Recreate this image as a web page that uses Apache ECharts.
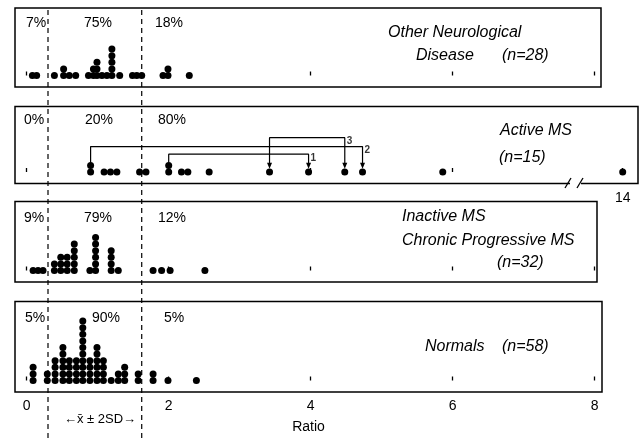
<!DOCTYPE html>
<html><head><meta charset="utf-8">
<script src="https://cdn.jsdelivr.net/npm/echarts@6/dist/echarts.min.js"></script>
<style>html,body{margin:0;padding:0;background:#fff}#c{width:642px;height:438px}</style>
</head><body><div id="c"></div>
<script>
// ---------------- DATA ----------------
const tickValues = [0, 2, 4, 6, 8];
const activeTickValues = [0, 2, 4, 6];
const breakTickValues = [14];
const sdLimits = [0.30, 1.62];          // mean - 2SD, mean + 2SD

const otherNeuro = [0.08, 0.14,
  0.39, 0.52, 0.52, 0.60, 0.69,
  0.87, 0.94, 0.94, 0.99, 0.99, 0.99, 1.06, 1.13, 1.20, 1.20, 1.20, 1.20, 1.20, 1.31, 1.49, 1.55,
  1.62, 1.92, 1.99, 1.99, 2.29];
const activeMS = [0.90, 0.90, 1.09, 1.18, 1.27, 1.59, 1.68, 2.00, 2.00, 2.18, 2.27, 2.57,
  3.42, 3.97, 4.48, 4.73, 5.86, 14];
const inactiveMS = [0.09, 0.16, 0.23,
  0.39, 0.39, 0.48, 0.48, 0.48, 0.57, 0.57, 0.57, 0.67, 0.67, 0.67, 0.67, 0.67,
  0.89, 0.97, 0.97, 0.97, 0.97, 0.97, 0.97, 1.19, 1.19, 1.19, 1.19, 1.29,
  1.78, 1.90, 2.02, 2.51];
const normals = [0.09, 0.09, 0.09,
  0.29, 0.29, 0.40, 0.40, 0.40, 0.40, 0.51, 0.51, 0.51, 0.51, 0.51, 0.51,
  0.60, 0.60, 0.60, 0.60, 0.70, 0.70, 0.70, 0.70,
  0.79, 0.79, 0.79, 0.79, 0.79, 0.79, 0.79, 0.79, 0.79, 0.79,
  0.89, 0.89, 0.89, 0.89, 0.99, 0.99, 0.99, 0.99, 0.99, 0.99,
  1.08, 1.08, 1.08, 1.08, 1.19, 1.29, 1.29, 1.38, 1.38, 1.38, 1.57, 1.57,
  1.78, 1.78, 1.99, 2.39];

// repeated measurements in active MS: [first, later]
const patientPairs = [[2.00, 3.97], [0.90, 4.73], [3.42, 4.48]];
const patientLabels = ['1', '2', '3'];

const pctOther = ['7%', '75%', '18%'];
const pctActive = ['0%', '20%', '80%'];
const pctInactive = ['9%', '79%', '12%'];
const pctNormals = ['5%', '90%', '5%'];

// ---------------- LAYOUT ----------------
const PX = 71, X0 = 26.7, LEFT = 15, STEP = 6.6, BASE = 11.5, DOT = 7;
const INK = '#000';
const FONT = '"Liberation Sans", Arial, sans-serif';
const panels = [
  {top: 8, bottom: 87, right: 601, vals: otherNeuro, ticks: tickValues},
  {top: 106.5, bottom: 183.5, right: 638, vals: activeMS, ticks: activeTickValues},
  {top: 201.5, bottom: 282, right: 597, vals: inactiveMS, ticks: tickValues},
  {top: 301.5, bottom: 392, right: 602, vals: normals, ticks: tickValues}
];
const bracketLevels = [2.7, 3.85, 5.2];
const pctLayout = [
  {y: 23, xs: [36, 98, 169], t: pctOther},
  {y: 120, xs: [34, 99, 172], t: pctActive},
  {y: 218, xs: [34, 98, 172], t: pctInactive},
  {y: 318, xs: [35, 106, 174], t: pctNormals}
];
const dotStyle = {color: INK, opacity: 1};

function stackDots(vals) {
  const seen = {};
  return vals.map(v => {
    const k = v.toFixed(3);
    const l = seen[k] || 0;
    seen[k] = l + 1;
    return [v, l];
  });
}

const grids = [], xAxes = [], yAxes = [], series = [];
panels.forEach((p, i) => {
  const h = p.bottom - p.top;
  grids.push({left: LEFT, top: p.top, width: p.right - LEFT, height: h, show: true,
    borderColor: INK, borderWidth: 1.5, backgroundColor: 'transparent', outerBoundsMode: 'none'});
  xAxes.push({gridIndex: i, type: 'value', min: (LEFT - X0) / PX, max: (p.right - X0) / PX,
    axisLine: {show: false}, splitLine: {show: false},
    axisTick: {show: true, inside: true, length: 4, customValues: p.ticks, lineStyle: {color: INK, width: 1.3}},
    axisLabel: {show: i === 3, customValues: tickValues, margin: 7, color: INK, fontSize: 14, fontFamily: FONT},
    name: i === 3 ? 'Ratio' : '', nameLocation: 'middle', nameGap: 28,
    nameTextStyle: {color: INK, fontSize: 14, fontFamily: FONT}});
  yAxes.push({gridIndex: i, type: 'value', show: false, min: -BASE / STEP, max: (h - BASE) / STEP});
  series.push({type: 'scatter', xAxisIndex: i, yAxisIndex: i, symbolSize: DOT, silent: true,
    itemStyle: dotStyle, data: stackDots(p.vals.filter(v => v <= 8.6))});
});

// broken-axis segment for active MS (value 14)
const bp = panels[1];
const bLeft = 581;
grids.push({left: bLeft, top: bp.top, width: bp.right - bLeft, height: bp.bottom - bp.top, show: false, outerBoundsMode: 'none'});
xAxes.push({gridIndex: 4, type: 'value', min: 14 - (622.7 - bLeft) / PX, max: 14 + (bp.right - 622.7) / PX,
  axisLine: {show: false}, splitLine: {show: false},
  axisTick: {show: true, inside: true, length: 4, customValues: breakTickValues, lineStyle: {color: INK, width: 1.3}},
  axisLabel: {show: true, customValues: breakTickValues, margin: 8, color: INK, fontSize: 14, fontFamily: FONT}});
yAxes.push({gridIndex: 4, type: 'value', show: false, min: -BASE / STEP, max: (bp.bottom - bp.top - BASE) / STEP});
series.push({type: 'scatter', xAxisIndex: 4, yAxisIndex: 4, symbolSize: DOT, silent: true,
  itemStyle: dotStyle, data: stackDots(activeMS.filter(v => v > 8.6))});

// overlay grid for the dashed mean +/- 2SD lines
grids.push({left: LEFT, top: 0, width: 602 - LEFT, height: 438, show: false, outerBoundsMode: 'none'});
xAxes.push({gridIndex: 5, type: 'value', show: false, min: (LEFT - X0) / PX, max: (602 - X0) / PX});
yAxes.push({gridIndex: 5, type: 'value', show: false, min: 0, max: 438});
sdLimits.forEach(v => {
  series.push({type: 'line', xAxisIndex: 5, yAxisIndex: 5, symbol: 'none', silent: true, z: 1,
    lineStyle: {color: INK, width: 1.2, type: [5, 4]}, data: [[v, 0], [v, 431]]});
});

// brackets for repeated measurements
const activeStack = stackDots(activeMS);
function topLevel(v) { return Math.max(...activeStack.filter(d => d[0] === v).map(d => d[1])); }
const arrowPts = [];
patientPairs.forEach((pr, k) => {
  const lv = bracketLevels[k];
  const leftEnd = topLevel(pr[0]) + (k === 2 ? 1.0 : 0.45);
  const rightEnd = topLevel(pr[1]) + 1.0;
  series.push({type: 'line', xAxisIndex: 1, yAxisIndex: 1, symbol: 'none', silent: true,
    lineStyle: {color: INK, width: 1.2},
    data: [[pr[0], leftEnd], [pr[0], lv], [pr[1], lv], [pr[1], rightEnd]]});
  arrowPts.push([pr[1], topLevel(pr[1]) + 0.95]);
  if (k === 2) arrowPts.push([pr[0], topLevel(pr[0]) + 0.95]);
  series.push({type: 'scatter', xAxisIndex: 1, yAxisIndex: 1, symbolSize: 0, silent: true,
    data: [[pr[1], lv]],
    label: {show: true, formatter: patientLabels[k], position: 'right', distance: 2, offset: [0, 4],
      color: INK, fontSize: 10, fontWeight: 'bold', fontFamily: FONT}});
});
series.push({type: 'scatter', xAxisIndex: 1, yAxisIndex: 1, symbol: 'triangle', symbolRotate: 180,
  symbolSize: [5, 6], silent: true, itemStyle: dotStyle, data: arrowPts});

// texts
const graphic = [];
pctLayout.forEach(pl => pl.t.forEach((t, j) => graphic.push({type: 'text', x: pl.xs[j], y: pl.y,
  style: {text: t, fill: INK, font: '14px ' + FONT, textAlign: 'center', textVerticalAlign: 'middle'}})));
function title(t, x, y) {
  graphic.push({type: 'text', x: x, y: y, style: {text: t, fill: INK, font: 'italic 16px ' + FONT,
    textAlign: 'left', textVerticalAlign: 'middle'}});
}
title('Other Neurological', 388, 33);
title('Disease', 416, 56);
title('(n=28)', 502, 56);
title('Active MS', 500, 131);
title('(n=15)', 499, 158);
title('Inactive MS', 402, 217);
title('Chronic Progressive MS', 402, 241);
title('(n=32)', 497, 263);
title('Normals', 425, 347);
title('(n=58)', 502, 347);
graphic.push({type: 'text', x: 100, y: 419, style: {text: '\u2190x\u0304 \u00b1 2SD\u2192', fill: INK,
  font: '13px ' + FONT, textAlign: 'center', textVerticalAlign: 'middle'}});
// axis break marks
graphic.push({type: 'rect', shape: {x: 570, y: 180, width: 11, height: 7}, style: {fill: '#fff'}, z: 100});
graphic.push({type: 'line', shape: {x1: 565, y1: 188, x2: 571, y2: 178}, style: {stroke: INK, lineWidth: 1.3}, z: 101});
graphic.push({type: 'line', shape: {x1: 577, y1: 188, x2: 583, y2: 178}, style: {stroke: INK, lineWidth: 1.3}, z: 101});

const chart = echarts.init(document.getElementById('c'), null, {renderer: 'canvas'});
chart.setOption({
  animation: false,
  backgroundColor: '#fff',
  grid: grids, xAxis: xAxes, yAxis: yAxes, series: series, graphic: graphic
});
</script></body></html>
